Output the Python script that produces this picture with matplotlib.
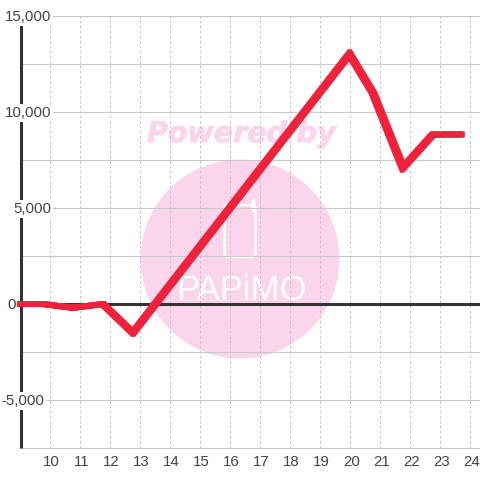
import matplotlib
matplotlib.use("Agg")
import matplotlib.pyplot as plt
import matplotlib.patheffects as pe
from matplotlib.lines import Line2D
from matplotlib.patches import Circle, FancyBboxPatch
from matplotlib.transforms import IdentityTransform, blended_transform_factory, ScaledTranslation

plt.rcParams['font.family'] = ['Liberation Sans', 'DejaVu Sans']

x_vals = [8.94, 9.75, 10.75, 11.75, 12.75, 19.97, 20.75, 21.75, 22.75, 23.76]
y_vals = [0, 0, -200, 0, -1500, 13020, 11000, 7100, 8830, 8830]
x_ticks = list(range(10, 25))
y_grid = [-7500, -5000, -2500, 0, 2500, 5000, 7500, 10000, 12500, 15000]
y_labels = {15000: "15,000", 10000: "10,000", 5000: "5,000", 0: "0", -5000: "-5,000"}
label_right_px = {15000: 51, 10000: 51, 5000: 51, 0: 16, -5000: 44}

W = 480
fig = plt.figure(figsize=(4.8, 4.8), dpi=100, facecolor='white')
ax = fig.add_axes([20 / W, 32 / W, 460 / W, 432 / W])
ax.set_xlim(9 - 0.4 / 30, 24 + 9.6 / 30)
ax.set_ylim(-7500, 15000)
ax.set_facecolor('white')
for s in ['top', 'right', 'bottom', 'left']:
    ax.spines[s].set_visible(False)
ax.set_yticks([])
ax.set_xticks(x_ticks)
ax.tick_params(axis='x', length=0, pad=5, labelsize=10.8, labelcolor='#444444')
for lab in ax.get_xticklabels():
    lab.set_transform(lab.get_transform() + ScaledTranslation(1 / 100, 0, fig.dpi_scale_trans))

# left axis line, in figure pixels horizontally
ax.add_line(Line2D([20.5, 20.5], [32, 464], transform=IdentityTransform(),
                   color='#333333', lw=2.2, solid_capstyle='butt', zorder=3, clip_on=False))

# watermark, placed in figure pixels
pink = '#FBD5EC'
idt = IdentityTransform()
ax.add_patch(Circle((240.0, 480 - 259.0), 99.5, transform=idt, fc=pink, ec='none', zorder=0.5, clip_on=False))
ax.add_patch(FancyBboxPatch((224.5, 480 - 257), 31, 52, boxstyle='round,pad=0,rounding_size=3',
                            transform=idt, fc='none', ec='white', lw=1.7, zorder=0.6, clip_on=False))
ax.add_line(Line2D([253, 253], [480 - 201, 480 - 209], transform=idt, color='white', lw=3.4,
                   solid_capstyle='round', zorder=0.6, clip_on=False))
ax.text(241.5, 480 - 134, 'Powered by', transform=idt, ha='center', va='center',
        family='DejaVu Sans', weight='bold', style='italic', fontsize=20.5, color=pink, zorder=0.4,
        path_effects=[pe.withStroke(linewidth=0.6, foreground=pink)])
ax.text(241, 480 - 291, 'PAPiMO', transform=idt, ha='center', va='center',
        fontsize=25, color='white', zorder=0.6)

# grid
for v in y_grid:
    ax.axhline(v, color='#c8c8c8', lw=0.75, zorder=1, clip_on=False)
for v in x_ticks:
    ax.axvline(v, color='#c4c4c4', lw=0.72, ls=(0, (2.5, 2.5)), zorder=1)
ax.axhline(0, color='#333333', lw=2.2, zorder=2)

# y labels sit on white boxes that interrupt the axis line and grid
tr = blended_transform_factory(fig.transFigure, ax.transData) + ScaledTranslation(0, -1 / 100, fig.dpi_scale_trans)
for v, s in y_labels.items():
    ax.text(label_right_px[v] / W, v, s, transform=tr, ha='right', va='center', fontsize=10.8,
            color='#444444', zorder=4, clip_on=False,
            bbox=dict(fc='white' if v else 'none', ec='none', pad=1.2))

# the stroke of the reference line is wider horizontally than vertically
red = '#F0213A'
stretch = [pe.Stroke(offset=(d, 0)) for d in (-1.2, -0.6, 0, 0.6, 1.2)]
ax.plot(x_vals, y_vals, color=red, lw=4.2, solid_joinstyle='miter', solid_capstyle='butt',
        zorder=5, clip_on=False, path_effects=stretch)

fig.savefig('out.png', dpi=100)
